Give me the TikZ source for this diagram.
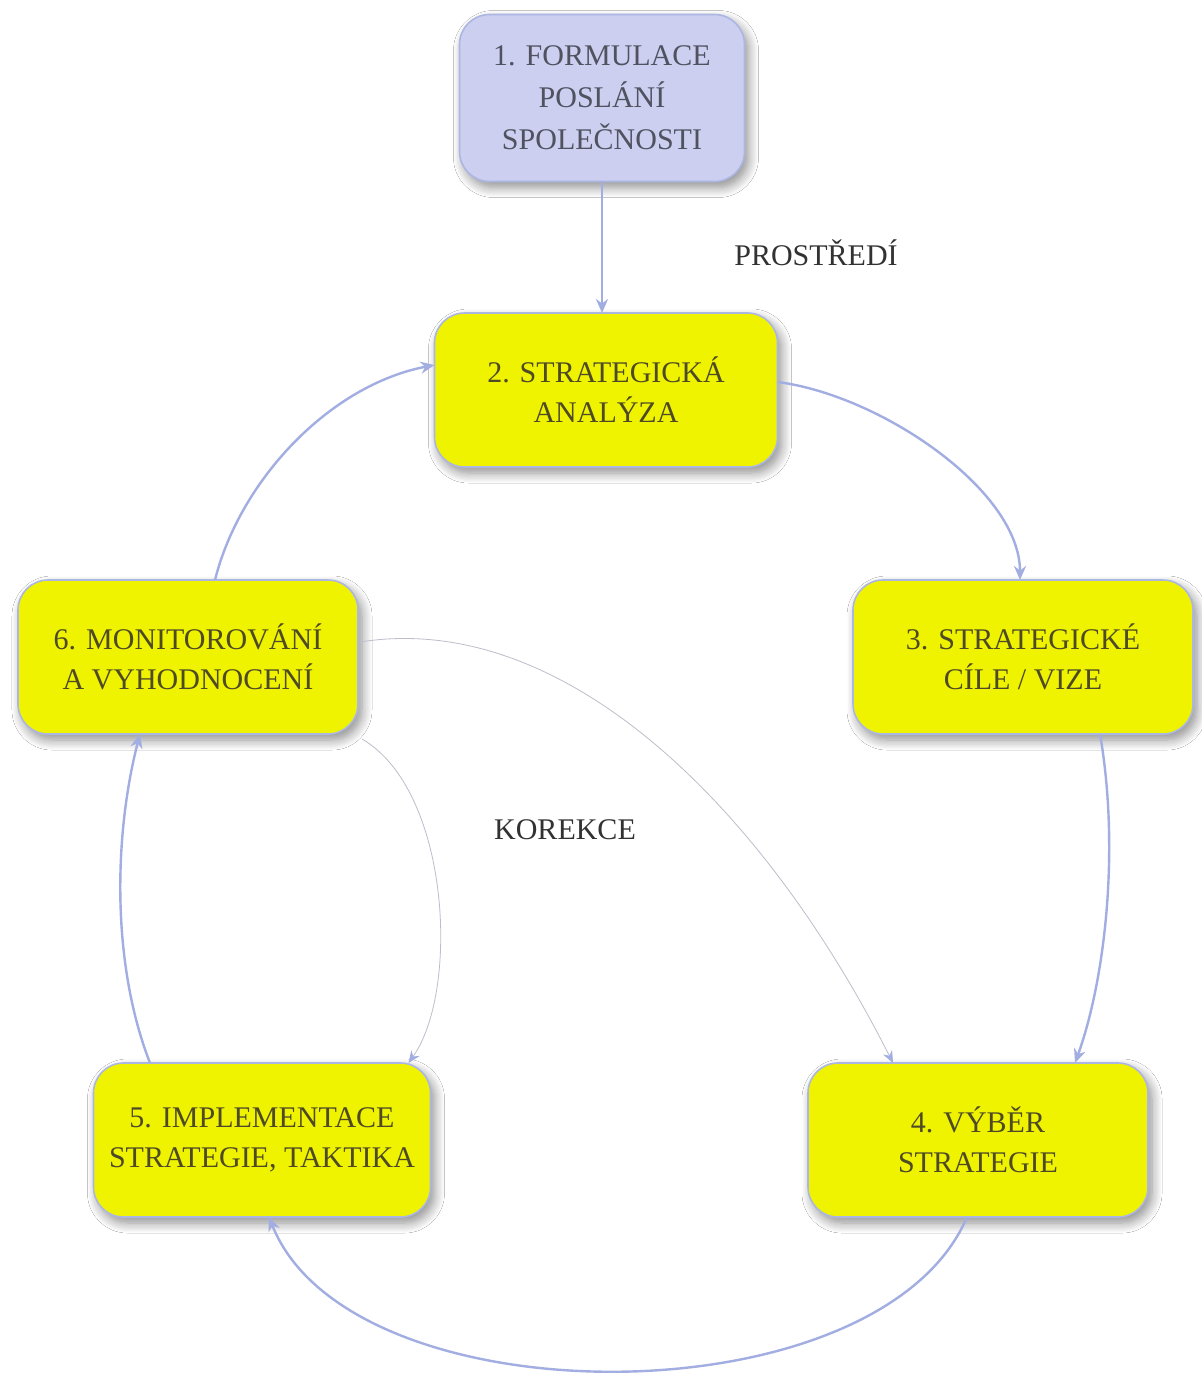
\documentclass[tikz,border=0pt]{standalone}
\usepackage{fontspec}
\setmainfont{Liberation Serif}
\usetikzlibrary{arrows.meta,shadows.blur,calc}
\definecolor{boxyellow}{RGB}{240,243,0}
\definecolor{boxlav}{RGB}{204,207,240}
\definecolor{boxedge}{RGB}{172,182,226}
\definecolor{conncol}{RGB}{162,174,226}
\definecolor{thincol}{RGB}{188,190,202}
\definecolor{olivetext}{RGB}{78,74,38}
\definecolor{lavtext}{RGB}{80,82,96}
\definecolor{plaintext}{RGB}{50,50,50}
\begin{document}
\begin{tikzpicture}[x=0.5pt,y=-0.5pt,
  box/.style={rounded corners=15pt, draw=boxedge, line width=0.8pt, fill=boxyellow,
    text=olivetext, align=center, inner sep=0pt, outer sep=0pt,
    minimum width=170pt, minimum height=77pt, font=\fontsize{15}{20}\selectfont,
    blur shadow={shadow xshift=2pt,shadow yshift=-3pt,shadow blur radius=5pt,shadow blur steps=10,shadow opacity=45}},
  lavbox/.style={box, fill=boxlav, text=lavtext, font=\fontsize{15}{21}\selectfont},
  conn/.style={draw=conncol, line width=1.2pt, -{Stealth[length=7pt,width=6pt]}},
  thinconn/.style={draw=thincol, line width=0.4pt, -{Stealth[length=6pt,width=5pt,color=conncol]}},
  lbl/.style={text=plaintext, font=\fontsize{15}{18}\selectfont}]
\fill[white] (0,0) rectangle (1202,1380);
\useasboundingbox (0,0) rectangle (1202,1380);

\node[lavbox, minimum width=142.5pt, minimum height=83.5pt] (n1) at (602,98) {1. FORMULACE\\POSLÁNÍ\\SPOLEČNOSTI};
\node[box, minimum width=171.5pt] (n2) at (606,390) {2. STRATEGICKÁ\\ANALÝZA};
\node[box] (n3) at (1023,657) {3. STRATEGICKÉ\\CÍLE / VIZE};
\node[box] (n4) at (978,1140) {4. VÝBĚR\\STRATEGIE};
\node[box, minimum width=168.5pt] (n5) at (262,1140) {5. IMPLEMENTACE\\STRATEGIE, TAKTIKA};
\node[box] (n6) at (188,657) {6. MONITOROVÁNÍ\\A VYHODNOCENÍ};

\node[lbl] (env) at (816,253) {PROSTŘEDÍ};
\node[lbl] (kor) at (565,830) {KOREKCE};

\draw[conn] (n1.south) -- (n1.south |- n2.north);
\draw[conn] ($(n2.east)+(0,-8)$) .. controls (880,395) and (1020,490) .. ($(n3.north)+(-3,0)$);
\draw[conn] ($(n3.south)+(77,0)$) .. controls (1120,850) and (1105,980) .. ($(n4.north)+(97,0)$);
\draw[conn] ($(n4.south)+(-11,0)$) .. controls (880,1422) and (350,1422) .. ($(n5.south)+(7,0)$);
\draw[conn] ($(n5.north)+(-112,0)$) .. controls (110,960) and (115,830) .. ($(n6.south)+(-48,0)$);
\draw[conn] ($(n6.north)+(27,0)$) .. controls (240,480) and (330,385) .. ($(n2.west)+(0,-25)$);

\draw[thinconn] ($(n6.east)+(2,-15)$) .. controls (560,610) and (760,800) .. ($(n4.north)+(-85,0)$);
\draw[thinconn] ($(n6.south east)+(4,5)$) .. controls (450,790) and (460,990) .. ($(n5.north east)+(-22,0)$);
\end{tikzpicture}
\end{document}
